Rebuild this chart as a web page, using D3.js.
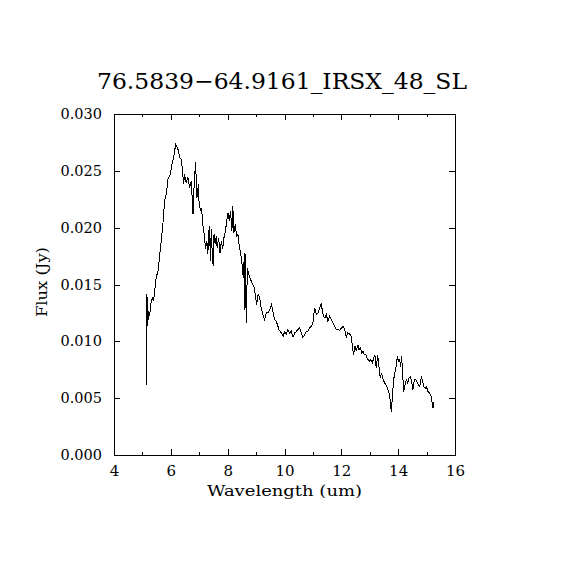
<!DOCTYPE html>
<html>
<head>
<meta charset="utf-8">
<script src="https://cdn.jsdelivr.net/npm/d3@7"></script>
<style>
  body { margin: 0; background: #fff; }
  text { font-family: "DejaVu Serif", serif; fill: #000; }
</style>
</head>
<body>
<svg id="chart"></svg>
<script>
// spectrum: wavelength (um) and flux (Jy)
var wavelength = [
  5.13, 5.14, 5.16, 5.18, 5.22, 5.25, 5.30, 5.35, 5.39, 5.43, 5.49, 5.54, 5.60, 5.66, 5.72, 5.78, 5.84, 5.90, 5.98, 6.04,
  6.11, 6.17, 6.25, 6.31, 6.37, 6.40, 6.45, 6.48, 6.54, 6.60, 6.66, 6.72, 6.78, 6.81, 6.87, 6.92, 6.97, 6.99, 7.04, 7.08,
  7.13, 7.19, 7.22, 7.27, 7.30, 7.35, 7.40, 7.42, 7.46, 7.49, 7.52, 7.56, 7.60, 7.63, 7.68, 7.73, 7.78, 7.82, 7.87, 7.92,
  7.96, 8.01, 8.06, 8.10, 8.15, 8.18, 8.22, 8.27, 8.31, 8.36, 8.41, 8.46, 8.50, 8.55, 8.59, 8.61, 8.63, 8.66, 8.69, 8.74,
  8.81, 8.85, 8.92, 8.97, 9.02, 9.07, 9.13, 9.18, 9.24, 9.30, 9.36, 9.42, 9.48, 9.54, 9.59, 9.65, 9.71, 9.77, 9.80, 9.89,
  9.95, 10.01, 10.06, 10.12, 10.18, 10.24, 10.30, 10.36, 10.42, 10.47, 10.53, 10.59, 10.65, 10.71, 10.77, 10.82, 10.88, 10.94, 11.00, 11.06,
  11.12, 11.18, 11.24, 11.30, 11.33, 11.38, 11.42, 11.47, 11.53, 11.59, 11.65, 11.71, 11.77, 11.83, 11.88, 11.94, 12.00, 12.06, 12.12, 12.18,
  12.22, 12.29, 12.35, 12.39, 12.43, 12.48, 12.53, 12.58, 12.62, 12.67, 12.72, 12.76, 12.81, 12.86, 12.90, 12.95, 13.00, 13.04, 13.09, 13.14,
  13.18, 13.23, 13.28, 13.33, 13.37, 13.42, 13.47, 13.53, 13.59, 13.64, 13.70, 13.74, 13.76, 13.80, 13.84, 13.89, 13.94, 13.97, 14.01, 14.05,
  14.09, 14.12, 14.16, 14.19, 14.23, 14.29, 14.34, 14.38, 14.43, 14.48, 14.52, 14.57, 14.62, 14.66, 14.71, 14.76, 14.82, 14.85, 14.90, 14.95,
  14.99, 15.05, 15.11, 15.17, 15.20, 15.23, 15.26
];
var flux = [
  0.00618, 0.01059, 0.01412, 0.01132, 0.01265, 0.01220, 0.01338, 0.01382, 0.01353, 0.01441, 0.01574, 0.01603, 0.01735, 0.01882, 0.02030, 0.02235, 0.02294, 0.02426, 0.02470, 0.02559,
  0.02632, 0.02735, 0.02691, 0.02618, 0.02603, 0.02530, 0.02382, 0.02470, 0.02397, 0.02441, 0.02353, 0.02412, 0.02118, 0.02324, 0.02574, 0.02265, 0.02382, 0.02235, 0.02147, 0.02176,
  0.02015, 0.01912, 0.01809, 0.01882, 0.01765, 0.02015, 0.01706, 0.01985, 0.01765, 0.01662, 0.01941, 0.01853, 0.01926, 0.01824, 0.01912, 0.01780, 0.01882, 0.01809, 0.01912, 0.01970,
  0.02044, 0.02132, 0.02059, 0.02147, 0.01970, 0.02191, 0.01956, 0.02030, 0.01926, 0.01941, 0.01838, 0.01765, 0.01691, 0.01559, 0.01780, 0.01280, 0.01765, 0.01162, 0.01647, 0.01588,
  0.01544, 0.01515, 0.01485, 0.01412, 0.01324, 0.01412, 0.01382, 0.01294, 0.01235, 0.01191, 0.01250, 0.01250, 0.01280, 0.01324, 0.01265, 0.01191, 0.01176, 0.01132, 0.01103, 0.01074,
  0.01044, 0.01088, 0.01059, 0.01103, 0.01074, 0.01088, 0.01038, 0.01074, 0.01088, 0.01103, 0.01118, 0.01074, 0.01035, 0.01059, 0.01088, 0.01088, 0.01118, 0.01132, 0.01162, 0.01294,
  0.01235, 0.01250, 0.01294, 0.01338, 0.01265, 0.01220, 0.01206, 0.01235, 0.01176, 0.01220, 0.01191, 0.01162, 0.01132, 0.01103, 0.01103, 0.01097, 0.01118, 0.01132, 0.01103, 0.01030,
  0.01074, 0.01065, 0.01044, 0.00956, 0.00882, 0.00956, 0.00912, 0.00971, 0.00926, 0.00941, 0.00897, 0.00912, 0.00882, 0.00882, 0.00853, 0.00838, 0.00824, 0.00838, 0.00809, 0.00853,
  0.00882, 0.00765, 0.00882, 0.00765, 0.00677, 0.00721, 0.00662, 0.00632, 0.00609, 0.00574, 0.00529, 0.00426, 0.00382, 0.00529, 0.00662, 0.00735, 0.00794, 0.00867, 0.00824, 0.00838,
  0.00779, 0.00867, 0.00721, 0.00559, 0.00603, 0.00662, 0.00632, 0.00677, 0.00691, 0.00632, 0.00574, 0.00662, 0.00662, 0.00647, 0.00618, 0.00603, 0.00691, 0.00662, 0.00603, 0.00588,
  0.00603, 0.00559, 0.00544, 0.00515, 0.00441, 0.00412, 0.00470
];
var xMajorTicks = [4, 6, 8, 10, 12, 14, 16];
var xMinorTicks = [5, 7, 9, 11, 13, 15];
var yTicks = [0, 0.005, 0.010, 0.015, 0.020, 0.025, 0.030];
var title = "76.5839\u221264.9161_IRSX_48_SL";
var xTitle = "Wavelength (um)";
var yTitle = "Flux (Jy)";

var svgWidth = 570, svgHeight = 570;
var margin = { top: 114, left: 114 };
var width = 341, height = 341;

var svg = d3.select("#chart")
    .attr("width", svgWidth)
    .attr("height", svgHeight);

var g = svg.append("g")
    .attr("transform", "translate(" + margin.left + "," + margin.top + ")");

var x = d3.scaleLinear().domain([4, 16]).range([0, width]);
var y = d3.scaleLinear().domain([0, 0.03]).range([height, 0]);

var data = wavelength.map(function(w, i) { return { w: w, f: flux[i] }; });

// ticks on all four sides, pointing inward
function tickAxis(axis, values, size, pos, labels) {
    axis.tickValues(values).tickSizeInner(-size).tickSizeOuter(0);
    var sel = g.append("g")
        .attr("transform", pos)
        .call(axis);
    sel.select(".domain").remove();
    sel.selectAll("line").attr("stroke", "#000").attr("shape-rendering", "crispEdges");
    if (!labels) sel.selectAll("text").remove();
    return sel;
}

var bottom = tickAxis(d3.axisBottom(x).tickPadding(10).tickFormat(d3.format("d")), xMajorTicks, 6, "translate(0," + height + ")", true);
tickAxis(d3.axisBottom(x), xMinorTicks, 3, "translate(0," + height + ")", false);
tickAxis(d3.axisTop(x), xMajorTicks, 6, "translate(0,0)", false);
tickAxis(d3.axisTop(x), xMinorTicks, 3, "translate(0,0)", false);
var left = tickAxis(d3.axisLeft(y).tickPadding(12).tickFormat(d3.format(".3f")), yTicks, 6, "translate(0,0)", true);
tickAxis(d3.axisRight(y), yTicks, 6, "translate(" + width + ",0)", false);

bottom.selectAll("text")
    .attr("font-family", "DejaVu Serif")
    .attr("font-size", "15px")
    .attr("fill", "#000");
left.selectAll("text")
    .attr("font-family", "DejaVu Serif")
    .attr("font-size", "14.5px")
    .attr("fill", "#000");

g.append("rect")
    .attr("x", 0)
    .attr("y", 0)
    .attr("width", width)
    .attr("height", height)
    .attr("fill", "none")
    .attr("stroke", "#000")
    .attr("shape-rendering", "crispEdges");

var line = d3.line()
    .x(function(d) { return x(d.w); })
    .y(function(d) { return y(d.f); });

g.append("path")
    .datum(data)
    .attr("fill", "none")
    .attr("stroke", "#000")
    .attr("stroke-width", 1)
    .attr("shape-rendering", "crispEdges")
    .attr("d", line);

svg.append("text")
    .attr("x", 282)
    .attr("y", 89)
    .attr("text-anchor", "middle")
    .attr("font-size", "23px")
    .attr("textLength", 370)
    .attr("lengthAdjust", "spacingAndGlyphs")
    .text(title);

svg.append("text")
    .attr("x", margin.left + width / 2)
    .attr("y", 496)
    .attr("text-anchor", "middle")
    .attr("font-size", "15px")
    .attr("textLength", 155)
    .attr("lengthAdjust", "spacingAndGlyphs")
    .text(xTitle);

svg.append("text")
    .attr("transform", "translate(47," + (margin.top + 168) + ") rotate(-90)")
    .attr("text-anchor", "middle")
    .attr("font-size", "15px")
    .attr("textLength", 70)
    .attr("lengthAdjust", "spacingAndGlyphs")
    .text(yTitle);
</script>
</body>
</html>
